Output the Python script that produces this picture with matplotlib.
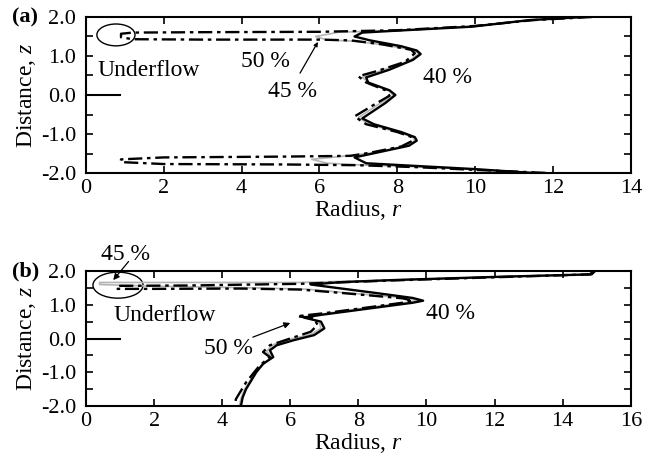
import matplotlib
matplotlib.use("Agg")
import matplotlib.pyplot as plt
from matplotlib.patches import Ellipse
import matplotlib.transforms as mtransforms

plt.rcParams['font.family'] = ['Liberation Serif', 'DejaVu Serif']
plt.rcParams['mathtext.fontset'] = 'custom'
plt.rcParams['mathtext.rm'] = 'Liberation Serif'
plt.rcParams['mathtext.it'] = 'Liberation Serif:italic'
plt.rcParams['axes.unicode_minus'] = False

# interface profiles, (a) panel: radius vs distance
r40a = [12.8, 11.4, 9.9, 8.0, 7.1, 6.9, 7.3, 8.1, 8.5, 8.6, 8.4, 7.8, 7.2, 7.25, 7.8, 7.95, 7.7, 7.1, 7.4, 8.1, 8.45, 8.5, 8.3, 7.6, 6.9, 7.2, 8.5, 10.0, 11.5]
z40a = [2.0, 1.92, 1.75, 1.65, 1.6, 1.5, 1.4, 1.25, 1.14, 1.05, 0.9, 0.65, 0.45, 0.32, 0.12, 0.0, -0.2, -0.6, -0.75, -0.95, -1.08, -1.17, -1.3, -1.45, -1.6, -1.75, -1.82, -1.9, -2.0]

r45a = [12.9, 11.4, 9.9, 8.0, 6.5, 5.9, 6.2, 6.9, 7.7, 8.45, 8.55, 8.3, 7.6, 7.1, 7.3, 7.8, 7.9, 7.5, 7.0, 7.3, 8.0, 8.4, 8.45, 8.2, 7.4, 6.5, 5.8, 6.2, 7.0, 8.5, 10.0, 11.7]
z45a = [2.0, 1.92, 1.76, 1.65, 1.61, 1.5, 1.41, 1.38, 1.28, 1.14, 1.06, 0.87, 0.63, 0.45, 0.3, 0.1, -0.02, -0.25, -0.58, -0.76, -0.95, -1.08, -1.17, -1.32, -1.48, -1.58, -1.65, -1.75, -1.79, -1.84, -1.91, -2.0]

r50a = [13.0, 11.5, 10.0, 8.0, 6.0, 3.0, 1.2, 0.9, 0.9, 1.2, 3.0, 6.0, 6.8, 7.6, 8.35, 8.45, 8.2, 7.5, 7.0, 7.2, 7.7, 7.8, 7.4, 6.9, 7.2, 8.0, 8.35, 8.4, 8.1, 7.3, 6.8, 5.0, 2.0, 0.9, 0.9, 2.0, 5.0, 7.0, 8.5, 10.0, 11.9]
z50a = [2.0, 1.92, 1.77, 1.66, 1.62, 1.61, 1.6, 1.57, 1.48, 1.43, 1.42, 1.42, 1.4, 1.3, 1.16, 1.07, 0.85, 0.62, 0.48, 0.32, 0.12, -0.02, -0.25, -0.55, -0.75, -0.95, -1.07, -1.17, -1.32, -1.48, -1.56, -1.58, -1.6, -1.65, -1.72, -1.77, -1.78, -1.8, -1.85, -1.92, -2.0]

# (b) panel
r40b = [14.95, 14.85, 12.2, 9.0, 7.5, 6.6, 7.2, 8.5, 9.6, 9.9, 9.6, 9.0, 7.8, 6.9, 6.4, 6.9, 7.0, 6.7, 6.1, 5.6, 5.4, 5.5, 5.2, 5.0, 4.85, 4.7, 4.6, 4.55]
z40b = [2.0, 1.9, 1.83, 1.73, 1.67, 1.6, 1.52, 1.35, 1.2, 1.12, 1.06, 0.98, 0.82, 0.7, 0.62, 0.5, 0.3, 0.1, -0.05, -0.2, -0.35, -0.55, -0.75, -1.0, -1.25, -1.5, -1.75, -2.0]

r45b = [14.95, 14.85, 12.2, 9.0, 6.3, 3.0, 0.4, 0.4, 2.0, 5.0, 6.5, 7.7, 9.45, 9.75, 9.45, 8.6, 7.3, 6.4, 6.85, 6.9, 6.6, 6.0, 5.5, 5.3, 5.45, 5.2, 4.95, 4.8, 4.65, 4.55, 4.5]
z45b = [2.0, 1.9, 1.83, 1.73, 1.66, 1.66, 1.66, 1.6, 1.55, 1.5, 1.46, 1.35, 1.2, 1.13, 1.07, 0.96, 0.78, 0.64, 0.5, 0.3, 0.12, -0.02, -0.18, -0.38, -0.55, -0.78, -1.02, -1.28, -1.52, -1.78, -2.0]

r50b = [14.9, 14.8, 12.2, 9.0, 6.3, 3.0, 1.0, 0.9, 0.9, 2.0, 4.5, 6.3, 7.5, 9.3, 9.6, 9.3, 8.5, 7.0, 6.2, 6.7, 6.8, 6.6, 6.0, 5.4, 5.2, 5.4, 5.1, 4.9, 4.7, 4.55, 4.4, 4.4]
z50b = [2.0, 1.9, 1.82, 1.72, 1.62, 1.57, 1.56, 1.53, 1.47, 1.47, 1.48, 1.45, 1.35, 1.19, 1.12, 1.06, 0.95, 0.75, 0.66, 0.6, 0.4, 0.2, 0.0, -0.2, -0.4, -0.55, -0.8, -1.05, -1.3, -1.55, -1.8, -2.0]

yticks_major = [-2.0, -1.0, 0.0, 1.0, 2.0]
yticks_minor = [-1.5, -0.5, 0.5, 1.5]

fig = plt.figure(figsize=(6.45, 4.69), dpi=100)
axa = fig.add_axes([0.1333, 0.6311, 0.8447, 0.3327])
axb = fig.add_axes([0.1333, 0.1343, 0.8447, 0.2879])


def draw_curves(ax, r40, z40, r45, z45, r50, z50):
    ax.plot(r45, z45, color='#b4b4b4', lw=1.2, zorder=2)
    ax.plot(r40, z40, color='black', lw=1.7, zorder=3)
    ax.plot(r50, z50, color='black', lw=1.7, dashes=(6, 2, 1.5, 2), zorder=4)


def style_axes(ax, xmax):
    ax.set_xlim(0, xmax)
    ax.set_ylim(-2.0, 2.0)
    ax.set_xticks(range(0, xmax + 1, 2))
    ax.set_yticks(yticks_major)
    ax.set_yticks(yticks_minor, minor=True)
    ax.set_yticklabels(['%.1f' % v for v in yticks_major])
    ax.tick_params(which='both', direction='in', top=True, right=True,
                   labelsize=16, width=1.2)
    ax.tick_params(axis='x', which='major', length=5, pad=4)
    ax.tick_params(axis='y', which='both', length=5, pad=7)
    for s in ax.spines.values():
        s.set_linewidth(1.5)
    ax.set_xlabel('Radius, $r$', fontsize=17, labelpad=0)
    ax.set_ylabel('Distance, $z$', fontsize=17, labelpad=2)
    # longer mark at z = 0
    trans = mtransforms.blended_transform_factory(ax.transAxes, ax.transData)
    ax.plot([0, 0.062], [0, 0], color='black', lw=1.5, transform=trans,
            clip_on=False)


# panel (a)
draw_curves(axa, r40a, z40a, r45a, z45a, r50a, z50a)
style_axes(axa, 14)
axa.add_patch(Ellipse((0.77, 1.54), 0.98, 0.56, fill=False, lw=1.0,
                      edgecolor='black'))
axa.text(0.3, 0.64, 'Underflow', fontsize=17, va='center', ha='left')
axa.text(4.62, 0.85, '50 %', fontsize=17, va='center', ha='center')
axa.text(5.3, 0.08, '45 %', fontsize=17, va='center', ha='center')
axa.text(9.3, 0.44, '40 %', fontsize=17, va='center', ha='center')
axa.annotate('', xy=(5.96, 1.36), xytext=(5.5, 0.56),
             arrowprops=dict(arrowstyle='-|>', color='black', lw=0.9,
                             mutation_scale=6, shrinkA=0, shrinkB=0))

# panel (b)
draw_curves(axb, r40b, z40b, r45b, z45b, r50b, z50b)
style_axes(axb, 16)
axb.add_patch(Ellipse((0.94, 1.58), 1.47, 0.77, fill=False, lw=1.0,
                      edgecolor='black'))
axb.text(0.8, 0.67, 'Underflow', fontsize=17, va='center', ha='left')
axb.text(1.15, 2.5, '45 %', fontsize=17, va='center', ha='center',
         clip_on=False)
axb.text(4.17, -0.31, '50 %', fontsize=17, va='center', ha='center')
axb.text(10.7, 0.75, '40 %', fontsize=17, va='center', ha='center')
axb.annotate('', xy=(0.8, 1.73), xytext=(1.25, 2.28),
             arrowprops=dict(arrowstyle='-|>', color='black', lw=0.9,
                             mutation_scale=9, shrinkA=0, shrinkB=0),
             annotation_clip=False)
axb.annotate('', xy=(6.0, 0.46), xytext=(4.9, 0.04),
             arrowprops=dict(arrowstyle='-|>', color='black', lw=0.9,
                             mutation_scale=9, shrinkA=0, shrinkB=0))

fig.text(0.019, 0.963, '(a)', fontsize=16, fontweight='bold', va='center')
fig.text(0.019, 0.422, '(b)', fontsize=16, fontweight='bold', va='center')

fig.savefig('out.png', dpi=100)
